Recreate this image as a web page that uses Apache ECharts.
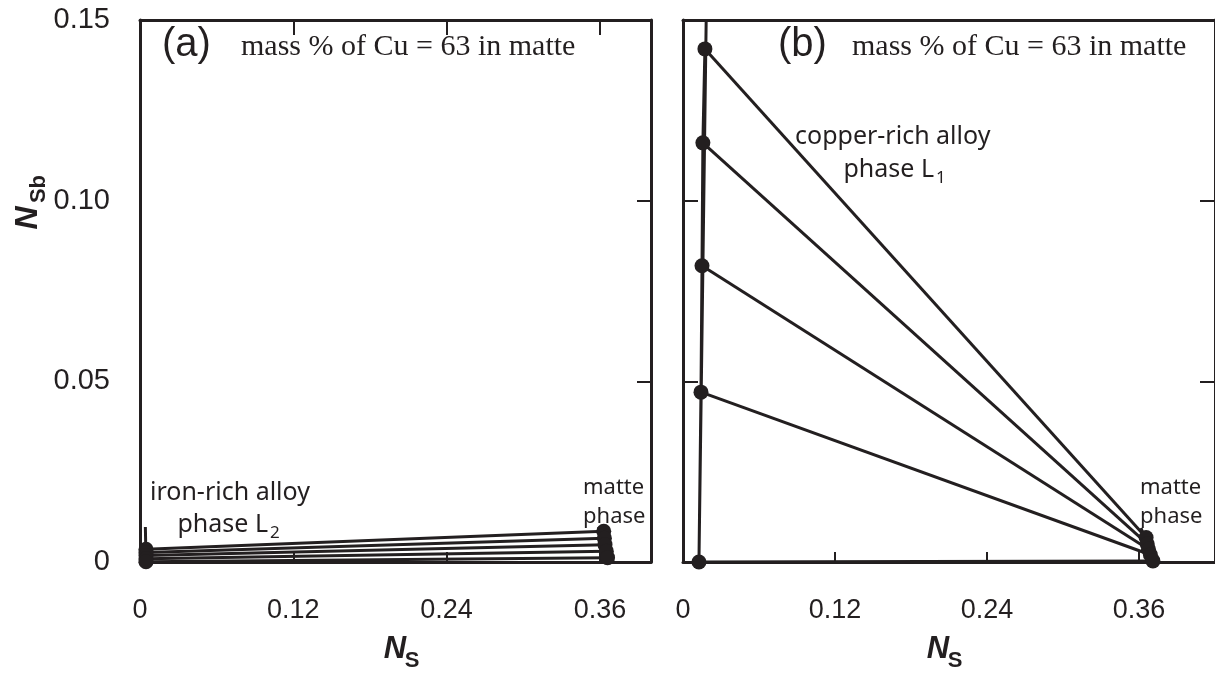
<!DOCTYPE html>
<html>
<head>
<meta charset="utf-8">
<script src="https://cdn.jsdelivr.net/npm/echarts@6/dist/echarts.min.js"></script>
<style>
html,body{margin:0;padding:0;background:#fff;}
#chart{width:1215px;height:675px;}
</style>
</head>
<body>
<div id="chart"></div>
<script>
// ---- data ----
const xTickValues = [0, 0.12, 0.24, 0.36];
const yTickValues = [0, 0.05, 0.10, 0.15];

// panel (a): iron-rich alloy phase L2 and matte phase
const alloyA_Ns  = [0.0047, 0.0047, 0.0047, 0.0047, 0.0047];
const alloyA_Nsb = [0.0035, 0.0026, 0.0018, 0.0009, 0.0001];
const matteA_Ns  = [0.363, 0.3635, 0.364, 0.365, 0.366];
const matteA_Nsb = [0.0085, 0.0066, 0.0048, 0.0030, 0.0012];
const alloyA_ext = [0.0042, 0.0097];   // end of the alloy guide line
const matteA_ext = [0.359, 0.0097];    // end of the matte guide line

// panel (b): copper-rich alloy phase L1 and matte phase
const alloyB_Ns  = [0.0173, 0.0157, 0.0150, 0.0142, 0.0126];
const alloyB_Nsb = [0.142, 0.116, 0.082, 0.047, 0.0];
const matteB_Ns  = [0.3656, 0.3665, 0.3675, 0.3690, 0.3710];
const matteB_Nsb = [0.0068, 0.0050, 0.0035, 0.0020, 0.0003];
const alloyB_ext = [0.0183, 0.150];
const matteB_ext = [0.3616, 0.0094];

// ---- chart ----
const INK = '#231f20';
const chart = echarts.init(document.getElementById('chart'), null, {renderer: 'canvas'});

function isTick(v, list){ return list.some(t => Math.abs(v - t) < 1e-9); }
function fmtX(v){ if(!isTick(v, xTickValues)) return ''; return v === 0 ? '0' : String(+v.toFixed(2)); }
function fmtY(v){ if(!isTick(v, yTickValues)) return ''; return Math.abs(v) < 1e-9 ? '0' : v.toFixed(2); }

const lineStyleAxis = {color: INK, width: 3};

function xAxisDef(grid, pos, max, showLabel, tickLen){
  return {
    type: 'value', gridIndex: grid, position: pos, min: 0, max: max, interval: 0.12,
    axisLine: {show: true, onZero: false, lineStyle: lineStyleAxis},
    axisTick: {show: tickLen > 0, inside: true, length: tickLen, lineStyle: {color: INK, width: 2}},
    axisLabel: {show: showLabel, formatter: fmtX, margin: 35, showMaxLabel: false,
      fontFamily: 'Liberation Sans', fontSize: 27, color: INK},
    splitLine: {show: false}
  };
}
function yAxisDef(grid, pos, showLabel, tickLen){
  return {
    type: 'value', gridIndex: grid, position: pos, min: 0, max: 0.15, interval: 0.05,
    axisLine: {show: true, onZero: false, lineStyle: lineStyleAxis},
    axisTick: {show: tickLen > 0, inside: true, length: tickLen, lineStyle: {color: INK, width: 2}},
    axisLabel: {show: showLabel, formatter: fmtY, margin: 30,
      fontFamily: 'Liberation Sans', fontSize: 29, color: INK},
    splitLine: {show: false}
  };
}

function zip(xs, ys){ return xs.map((x, i) => [x, ys[i]]); }

function panelSeries(ax, ay, aNs, aNsb, mNs, mNsb, aExt, mExt){
  const s = [];
  for (let i = 0; i < aNs.length; i++){
    s.push({type: 'line', xAxisIndex: ax, yAxisIndex: ay, symbol: 'none', silent: true,
      lineStyle: {color: INK, width: 3}, data: [[aNs[i], aNsb[i]], [mNs[i], mNsb[i]]], z: 3});
  }
  s.push({type: 'line', xAxisIndex: ax, yAxisIndex: ay, symbol: 'none', silent: true,
    lineStyle: {color: INK, width: 3}, data: zip(aNs, aNsb).concat([aExt]), z: 3});
  s.push({type: 'line', xAxisIndex: ax, yAxisIndex: ay, symbol: 'none', silent: true,
    lineStyle: {color: INK, width: 3}, data: zip(mNs, mNsb).concat([mExt]), z: 3});
  s.push({type: 'scatter', xAxisIndex: ax, yAxisIndex: ay, symbol: 'circle', symbolSize: 15,
    itemStyle: {color: INK, opacity: 1}, data: zip(aNs, aNsb).concat(zip(mNs, mNsb)), z: 4});
  return s;
}

const series = []
  .concat(panelSeries(0, 0, alloyA_Ns, alloyA_Nsb, matteA_Ns, matteA_Nsb, alloyA_ext, matteA_ext))
  .concat(panelSeries(2, 2, alloyB_Ns, alloyB_Nsb, matteB_Ns, matteB_Nsb, alloyB_ext, matteB_ext));

function txt(x, y, text, font, opts){
  return Object.assign({
    type: 'text', x: x, y: y, z: 10, silent: true,
    style: Object.assign({text: text, fill: INK, font: font, textAlign: 'left', textVerticalAlign: 'middle'}, opts || {})
  });
}
const hand = '"Noto Sans", sans-serif';
const graphics = [
  txt(162, 45, '(a)', '40px "Liberation Sans"'),
  txt(241, 47, 'mass % of Cu = 63 in matte', '30px "Liberation Serif"'),
  txt(778, 45, '(b)', '40px "Liberation Sans"'),
  txt(852, 47, 'mass % of Cu = 63 in matte', '30px "Liberation Serif"'),
  txt(795, 137, 'copper-rich alloy', '25px ' + hand),
  txt(934, 170, 'phase L', '25px ' + hand, {textAlign: 'right'}),
  txt(936, 178, '1', '17px ' + hand),
  txt(150, 493, 'iron-rich alloy', '25px ' + hand),
  txt(268, 525, 'phase L', '25px ' + hand, {textAlign: 'right'}),
  txt(270, 533, '2', '17px ' + hand),
  txt(583, 488, 'matte', '22px ' + hand),
  txt(583, 517, 'phase', '22px ' + hand),
  txt(1140, 488, 'matte', '22px ' + hand),
  txt(1140, 517, 'phase', '22px ' + hand),
  // axis titles
  txt(395, 649, 'N', 'italic bold 31px "Liberation Sans"', {textAlign: 'center'}),
  txt(412, 661, 'S', 'bold 22px "Liberation Sans"', {textAlign: 'center'}),
  txt(938, 649, 'N', 'italic bold 31px "Liberation Sans"', {textAlign: 'center'}),
  txt(955, 661, 'S', 'bold 22px "Liberation Sans"', {textAlign: 'center'}),
  Object.assign(txt(28, 218, 'N', 'italic bold 32px "Liberation Sans"', {textAlign: 'center'}), {rotation: Math.PI / 2}),
  Object.assign(txt(39, 189, 'Sb', 'bold 22px "Liberation Sans"', {textAlign: 'center'}), {rotation: Math.PI / 2})
];

chart.setOption({
  animation: false,
  backgroundColor: '#ffffff',
  grid: [
    {left: 140, top: 20, width: 511, height: 542, containLabel: false},
    {left: 683, top: 20, width: 534, height: 542, containLabel: false}
  ],
  xAxis: [
    xAxisDef(0, 'bottom', 0.40, true, 10),
    xAxisDef(0, 'top', 0.40, false, 15),
    xAxisDef(1, 'bottom', 0.42, true, 10),
    xAxisDef(1, 'top', 0.42, false, 0)
  ],
  yAxis: [
    yAxisDef(0, 'left', true, 0),
    yAxisDef(0, 'right', false, 14),
    yAxisDef(1, 'left', false, 15),
    yAxisDef(1, 'right', false, 15)
  ],
  series: series,
  graphic: graphics
});
</script>
</body>
</html>
